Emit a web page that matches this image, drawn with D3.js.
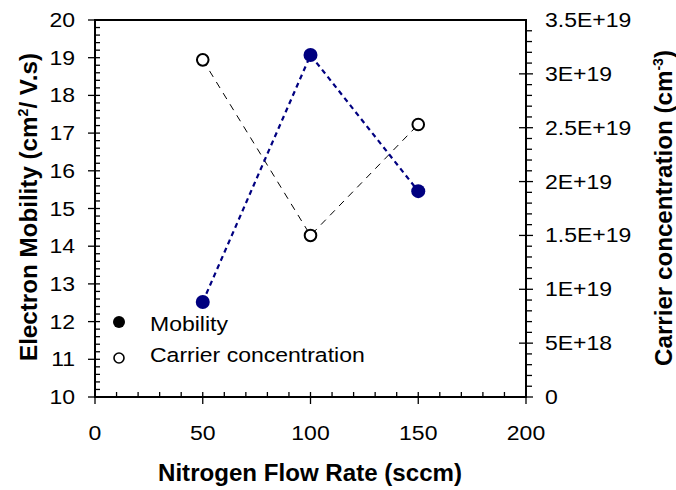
<!DOCTYPE html>
<html><head><meta charset="utf-8">
<script src="https://cdn.jsdelivr.net/npm/d3@7"></script>
<style>body{margin:0;background:#fff}svg{display:block}text{font-family:"Liberation Sans",Arial,sans-serif;fill:#000}</style>
</head><body>
<script>
const flowRate = [50, 100, 150];
const mobility = [12.52, 19.07, 15.46];
const carrier = [3.13e19, 1.50e19, 2.53e19];
const xTicks = [0, 50, 100, 150, 200];
const yLeftTicks = [10, 11, 12, 13, 14, 15, 16, 17, 18, 19, 20];
const yRightTicks = [0, 5e18, 1e19, 1.5e19, 2e19, 2.5e19, 3e19, 3.5e19];
const yRightLabels = ["0", "5E+18", "1E+19", "1.5E+19", "2E+19", "2.5E+19", "3E+19", "3.5E+19"];

const W = 676, H = 490, SX = 1.18, FS = 19.5;
const svg = d3.select("body").append("svg").attr("width", W).attr("height", H);
const x = d3.scaleLinear().domain([0, 200]).range([95, 526]);
const yL = d3.scaleLinear().domain([10, 20]).range([397, 20]);
const yR = d3.scaleLinear().domain([0, 3.5e19]).range([397, 20]);

function label(x0, y0, t, anchor, size, weight) {
  return svg.append("text").attr("transform", `translate(${x0},${y0}) scale(${SX},1)`)
    .attr("text-anchor", anchor).attr("font-size", size || FS).attr("font-weight", weight || "normal").text(t);
}
const tk = svg.append("g").attr("stroke", "#000").attr("stroke-width", 1.3);
// left axis ticks
d3.range(10, 20.001, 0.2).forEach(v => {
  const isMajor = Math.abs(v - Math.round(v)) < 1e-6;
  tk.append("line").attr("x1", isMajor ? 88 : 95).attr("x2", 100).attr("y1", yL(v)).attr("y2", yL(v));
});
// right axis ticks
d3.range(0, 3.5e19 + 1, 1e18).forEach(v => {
  const isMajor = Math.abs(v / 5e18 - Math.round(v / 5e18)) < 1e-6;
  tk.append("line").attr("x1", isMajor ? 519 : 526).attr("x2", isMajor ? 533 : 532).attr("y1", yR(v)).attr("y2", yR(v));
});
// x axis ticks
d3.range(0, 200.001, 10).forEach(v => {
  const isMajor = v % 50 === 0;
  tk.append("line").attr("x1", x(v)).attr("x2", x(v)).attr("y1", 392).attr("y2", isMajor ? 404 : 397);
});
// frame
svg.append("rect").attr("x", 95).attr("y", 20).attr("width", 431).attr("height", 377)
  .attr("fill", "none").attr("stroke", "#000").attr("stroke-width", 2);

yLeftTicks.forEach(v => label(75, yL(v) + 7, v, "end"));
yRightTicks.forEach((v, i) => label(545, yR(v) + 7, yRightLabels[i], "start"));
xTicks.forEach(v => label(x(v), 440, v, "middle"));

// titles
svg.append("text").attr("x", 310).attr("y", 481).attr("text-anchor", "middle")
  .attr("font-size", 24).attr("font-weight", "bold").attr("textLength", 304).attr("lengthAdjust", "spacingAndGlyphs")
  .text("Nitrogen Flow Rate (sccm)");
const lt = svg.append("text").attr("transform", "translate(37,207) rotate(-90)").attr("text-anchor", "middle")
  .attr("font-size", 24).attr("font-weight", "bold").attr("textLength", 308).attr("lengthAdjust", "spacingAndGlyphs");
lt.append("tspan").text("Electron Mobility (cm");
lt.append("tspan").attr("font-size", 14).attr("dy", -9).text("2");
lt.append("tspan").attr("dy", 9).text("/ V.s)");
const rt = svg.append("text").attr("transform", "translate(672,208) rotate(-90)").attr("text-anchor", "middle")
  .attr("font-size", 24).attr("font-weight", "bold").attr("textLength", 316).attr("lengthAdjust", "spacingAndGlyphs");
rt.append("tspan").text("Carrier concentration (cm");
rt.append("tspan").attr("font-size", 14).attr("dy", -9).text("-3");
rt.append("tspan").attr("dy", 9).text(")");

// series lines
const mobData = flowRate.map((f, i) => [f, mobility[i]]);
const carData = flowRate.map((f, i) => [f, carrier[i]]);
svg.append("path").datum(carData).attr("fill", "none").attr("stroke", "#000").attr("stroke-width", 1)
  .attr("stroke-dasharray", "7,6").attr("d", d3.line().x(d => x(d[0])).y(d => yR(d[1])));
svg.append("path").datum(mobData).attr("fill", "none").attr("stroke", "#000080").attr("stroke-width", 2.2)
  .attr("stroke-dasharray", "5,4").attr("d", d3.line().x(d => x(d[0])).y(d => yL(d[1])));
// markers
svg.selectAll(".mob").data(mobData).enter().append("circle").attr("cx", d => x(d[0])).attr("cy", d => yL(d[1]))
  .attr("r", 7).attr("fill", "#000080");
svg.selectAll(".car").data(carData).enter().append("circle").attr("cx", d => x(d[0])).attr("cy", d => yR(d[1]))
  .attr("r", 5.8).attr("fill", "#fff").attr("stroke", "#000").attr("stroke-width", 2);

// legend
svg.append("circle").attr("cx", 119).attr("cy", 322).attr("r", 6).attr("fill", "#000");
svg.append("circle").attr("cx", 119).attr("cy", 358).attr("r", 5).attr("fill", "#fff").attr("stroke", "#000").attr("stroke-width", 1.6);
label(150, 331, "Mobility", "start");
label(150, 362, "Carrier concentration", "start");
</script>
</body></html>
